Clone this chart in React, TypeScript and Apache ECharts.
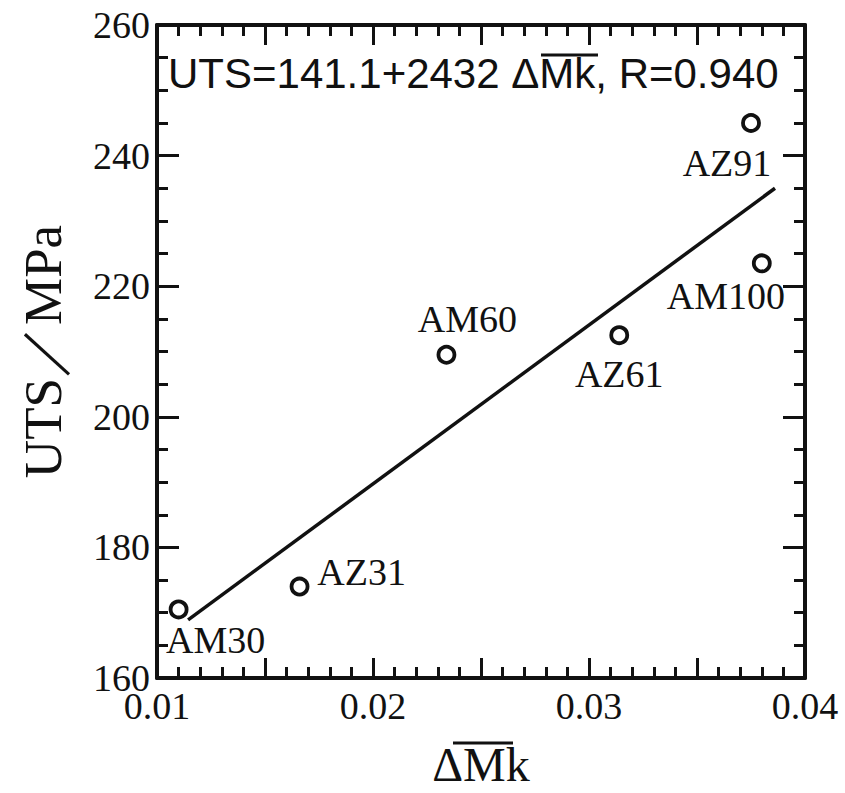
import React, { useEffect, useRef } from "react";
import * as echarts from "echarts";

// ---- data ----
const alloys = ["AM30", "AZ31", "AM60", "AZ61", "AZ91", "AM100"];
const deltaMk = [0.011, 0.0166, 0.0234, 0.0314, 0.0375, 0.038];
const uts = [170.5, 174.0, 209.5, 212.5, 245.0, 223.5];
const fitX = [0.01144, 0.03861];
const fitY = [168.9, 235.0];
const xTickLabels = ["0.01", "0.02", "0.03", "0.04"];
const yTickLabels = ["160", "180", "200", "220", "240", "260"];
const equationText = "UTS=141.1+2432 \u0394Mk, R=0.940";

// label placement (pixels relative to the marker centre)
const labelOffsets: Record<string, [number, number]> = {
  AM30: [37, 31],
  AZ31: [62, -15],
  AM60: [21, -36],
  AZ61: [0, 39],
  AZ91: [-24, 40],
  AM100: [-36, 33],
};

const INK = "#111";
const SERIF = "'Liberation Serif', 'Times New Roman', serif";
const SANS = "'Liberation Sans', Arial, sans-serif";

export default function App() {
  const ref = useRef<HTMLDivElement>(null);
  useEffect(() => {
    if (!ref.current) return;
    const chart = echarts.init(ref.current, undefined, { renderer: "svg" });

    const xCommon = {
      type: "value" as const,
      min: 0.01,
      max: 0.04,
      interval: 0.005,
      axisLine: { show: true, onZero: false, lineStyle: { color: INK, width: 4 } },
      axisTick: { show: true, inside: true, length: 20, lineStyle: { color: INK, width: 3 } },
      minorTick: { show: true, splitNumber: 5, length: 11, lineStyle: { color: INK, width: 3 } },
      splitLine: { show: false },
      minorSplitLine: { show: false },
    };
    const yCommon = {
      type: "value" as const,
      min: 160,
      max: 260,
      interval: 20,
      axisLine: { show: true, onZero: false, lineStyle: { color: INK, width: 4 } },
      axisTick: { show: true, inside: true, length: 22, lineStyle: { color: INK, width: 3 } },
      minorTick: { show: true, splitNumber: 4, length: 11, lineStyle: { color: INK, width: 3 } },
      splitLine: { show: false },
      minorSplitLine: { show: false },
    };

    chart.setOption({
      animation: false,
      backgroundColor: "#fff",
      grid: { left: 157, right: 40, top: 25, bottom: 113 },
      xAxis: [
        {
          ...xCommon,
          position: "bottom",
          name: "\u0394Mk",
          nameLocation: "middle",
          nameGap: 62,
          nameTextStyle: { fontFamily: SERIF, fontSize: 48, color: INK },
          axisLabel: {
            show: true,
            margin: 9,
            fontFamily: SERIF,
            fontSize: 38,
            color: INK,
            formatter: (v: number) => {
              const s = v.toFixed(2);
              return Math.abs(v * 100 - Math.round(v * 100)) < 1e-6 && xTickLabels.includes(s) ? s : "";
            },
          },
        },
        { ...xCommon, position: "top", axisLabel: { show: false } },
      ],
      yAxis: [
        {
          ...yCommon,
          position: "left",
          name: "UTS\uFF0FMPa",
          nameLocation: "middle",
          nameGap: 88,
          nameTextStyle: { fontFamily: SERIF, fontSize: 53, color: INK },
          axisLabel: {
            show: true,
            margin: 7,
            fontFamily: SERIF,
            fontSize: 38,
            color: INK,
            formatter: (v: number) => (yTickLabels.includes(String(v)) ? String(v) : ""),
          },
        },
        { ...yCommon, position: "right", axisLabel: { show: false } },
      ],
      series: [
        {
          type: "line",
          xAxisIndex: 0,
          yAxisIndex: 0,
          data: fitX.map((x, i) => [x, fitY[i]]),
          showSymbol: false,
          symbol: "none",
          lineStyle: { color: INK, width: 3.5 },
          z: 2,
        },
        {
          type: "scatter",
          xAxisIndex: 0,
          yAxisIndex: 0,
          symbol: "circle",
          symbolSize: 16,
          itemStyle: { color: "#fff", borderColor: INK, borderWidth: 3.8, opacity: 1 },
          z: 3,
          data: deltaMk.map((x, i) => ({
            value: [x, uts[i]],
            name: alloys[i],
            label: {
              show: true,
              position: "inside",
              offset: labelOffsets[alloys[i]],
              formatter: "{b}",
              fontFamily: SERIF,
              fontSize: 38,
              color: INK,
              opacity: 1,
            },
          })),
        },
      ],
      graphic: [
        {
          type: "text",
          left: 168,
          top: 52,
          style: { text: equationText, font: `42px ${SANS}`, fill: INK },
          z: 10,
        },
        {
          type: "line",
          shape: { x1: 541, y1: 55, x2: 598, y2: 55 },
          style: { stroke: INK, lineWidth: 3 },
          z: 10,
        },
        {
          type: "line",
          shape: { x1: 453, y1: 743, x2: 513, y2: 743 },
          style: { stroke: INK, lineWidth: 3 },
          z: 10,
        },
      ],
    });
    return () => chart.dispose();
  }, []);
  return (
    <div
      ref={ref}
      style={{ position: "fixed", left: 0, top: 0, width: 845, height: 793, background: "#fff" }}
    />
  );
}
